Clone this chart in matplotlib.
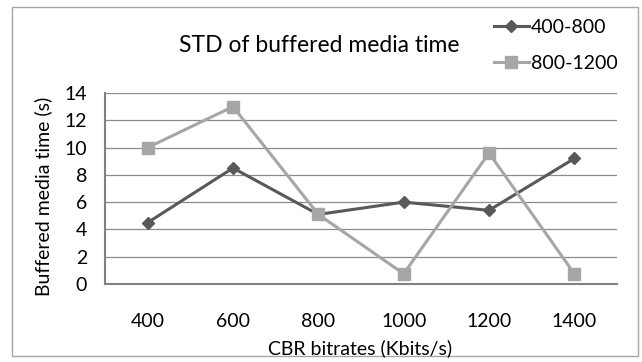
import matplotlib
matplotlib.use('Agg')
import matplotlib.pyplot as plt
from matplotlib.patches import Rectangle

# ── data ──
categories = ['400', '600', '800', '1000', '1200', '1400']
series_a = [4.5, 8.5, 5.1, 6.0, 5.4, 9.2]     # 400-800
series_b = [10.0, 13.0, 5.1, 0.75, 9.6, 0.75]  # 800-1200
yticks = [0, 2, 4, 6, 8, 10, 12, 14]

plt.rcParams['font.family'] = ['Lato', 'DejaVu Sans']

W, H = 642, 362
fig = plt.figure(figsize=(W / 100, H / 100), dpi=100)


def fx(px):
    return px / W


def fy(py):
    return 1 - py / H


# outer chart frame
fig.patches.append(Rectangle((fx(12), fy(356)), (638 - 12) / W, (356 - 7) / H,
                             transform=fig.transFigure, fill=False,
                             edgecolor='#a6a6a6', linewidth=1.0))

ax = fig.add_axes([fx(105), fy(284), (617 - 105) / W, (284 - 93) / H])

x = list(range(len(categories)))
ax.plot(x, series_a, color='#595959', linewidth=2.2, marker='D', markersize=6.5,
        label='400-800')
ax.plot(x, series_b, color='#a6a6a6', linewidth=2.2, marker='s', markersize=8.5,
        label='800-1200')

ax.set_xlim(-0.5, len(categories) - 0.5)
ax.set_ylim(0, 14)
ax.set_yticks(yticks)
ax.set_xticks(x)
ax.set_xticklabels(categories)
ax.tick_params(axis='both', length=0, labelsize=14, colors='#000000')
ax.tick_params(axis='x', pad=21)
ax.tick_params(axis='y', pad=13)
ax.yaxis.grid(True, color='#8c8c8c', linewidth=0.9)
ax.set_axisbelow(True)
for s in ['top', 'right']:
    ax.spines[s].set_visible(False)
for s in ['left', 'bottom']:
    ax.spines[s].set_color('#808080')
    ax.spines[s].set_linewidth(1.5)

fig.text(fx(360), fy(348), 'CBR bitrates (Kbits/s)', fontsize=14,
         ha='center', va='center')
fig.text(fx(43), fy(196), 'Buffered media time (s)', fontsize=14,
         ha='center', va='center', rotation=90)
fig.text(fx(319), fy(45), 'STD of buffered media time', fontsize=16.5,
         ha='center', va='center')

ax.legend(loc='upper left', bbox_to_anchor=(fx(484), fy(9)),
          bbox_transform=fig.transFigure, frameon=False, fontsize=14,
          handlelength=1.8, handletextpad=0.1, labelspacing=1.0,
          borderpad=0)

fig.savefig('out.png', dpi=100)
